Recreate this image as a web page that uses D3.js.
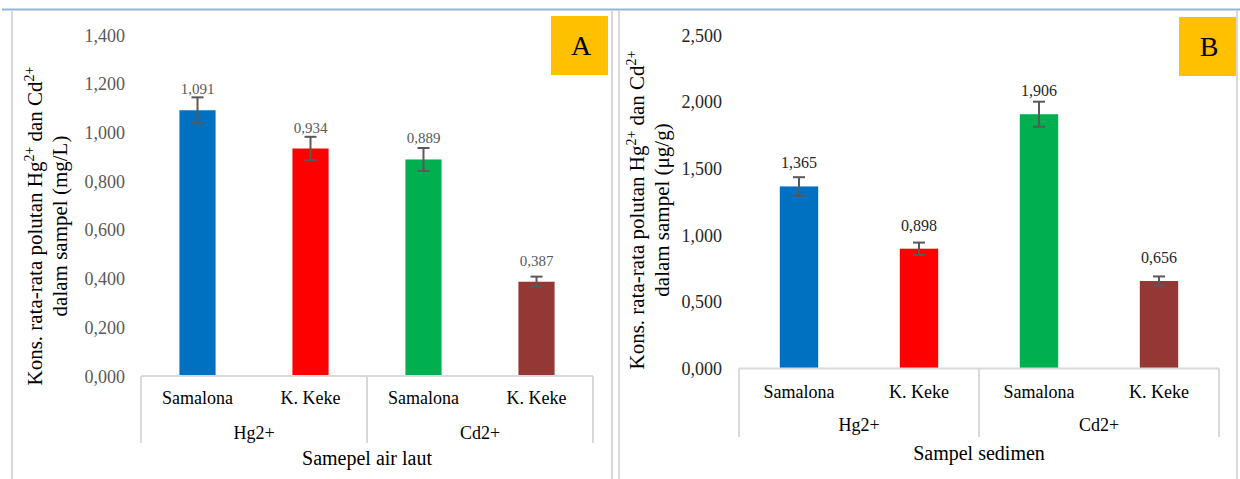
<!DOCTYPE html>
<html>
<head>
    <meta charset="utf-8">
    <title>Hg2+ dan Cd2+</title>
    <script src="https://d3js.org/d3.v7.min.js"></script>
    <style>
        body { margin: 0; background: #fff; }
        text { font-family: "Liberation Serif", "Times New Roman", serif; }
    </style>
</head>
<body>
    <script>
        // data
        var categories = ["Samalona", "K. Keke", "Samalona", "K. Keke"];
        var groups = ["Hg2+", "Cd2+"];
        var airValues = [1.091, 0.934, 0.889, 0.387];
        var airErrors = [0.053, 0.048, 0.047, 0.021];
        var sedValues = [1.365, 0.898, 1.906, 0.656];
        var sedErrors = [0.069, 0.046, 0.094, 0.034];
        var airTicks = [0, 0.2, 0.4, 0.6, 0.8, 1.0, 1.2, 1.4];
        var sedTicks = [0, 0.5, 1.0, 1.5, 2.0, 2.5];
        var barColors = ["#0070C0", "#FF0000", "#00B050", "#953735"];

        var loc = d3.formatLocale({decimal: ",", thousands: ".", grouping: [3], currency: ["", ""]});
        var fmt = loc.format(".3f");

        var svg = d3.select("body")
                    .append("svg")
                    .attr("width", 1240)
                    .attr("height", 479);

        // frame lines
        svg.append("line").attr("x1", 2).attr("x2", 1240).attr("y1", 9.5).attr("y2", 9.5)
           .attr("stroke", "#95B3DC").attr("stroke-width", 2);
        [12, 612, 619, 1237].forEach(function(x) {
            svg.append("line").attr("x1", x).attr("x2", x).attr("y1", 11).attr("y2", 479)
               .attr("stroke", "#D9D9D9").attr("stroke-width", 2);
        });

        function drawPanel(p) {
            var g = svg.append("g");

            var x = d3.scaleBand().domain(d3.range(categories.length))
                      .range([p.left, p.right]);
            var y = d3.scaleLinear().domain([0, p.max]).range([p.bottom, p.top]);
            var bw = x.bandwidth() * 0.32;

            // y axis
            var ax = g.append("g")
                      .attr("transform", "translate(" + p.tickX + ",0)")
                      .call(d3.axisLeft(y).tickValues(p.ticks).tickSize(0).tickPadding(0).tickFormat(fmt));
            ax.select(".domain").remove();
            ax.selectAll("text")
              .attr("font-family", "'Liberation Serif', 'Times New Roman', serif")
              .attr("font-size", 18)
              .attr("fill", p.tickColor)
              .attr("dy", "0.34em");

            // bars
            g.selectAll("rect.bar")
             .data(p.values)
             .join("rect")
             .attr("class", "bar")
             .attr("x", (d, i) => x(i) + x.bandwidth() / 2 - bw / 2)
             .attr("width", bw)
             .attr("y", d => y(d))
             .attr("height", d => y(0) - y(d))
             .attr("fill", (d, i) => barColors[i]);

            // error bars
            var eb = g.selectAll("g.err")
                      .data(p.values)
                      .join("g")
                      .attr("class", "err")
                      .attr("stroke", "#595959")
                      .attr("stroke-width", 2);
            eb.append("line")
              .attr("x1", (d, i) => x(i) + x.bandwidth() / 2)
              .attr("x2", (d, i) => x(i) + x.bandwidth() / 2)
              .attr("y1", (d, i) => y(d + p.errors[i]))
              .attr("y2", (d, i) => y(d - p.errors[i]));
            [1, -1].forEach(function(s) {
                eb.append("line")
                  .attr("x1", (d, i) => x(i) + x.bandwidth() / 2 - 6)
                  .attr("x2", (d, i) => x(i) + x.bandwidth() / 2 + 6)
                  .attr("y1", (d, i) => y(d + s * p.errors[i]))
                  .attr("y2", (d, i) => y(d + s * p.errors[i]));
            });

            // value labels
            g.selectAll("text.val")
             .data(p.values)
             .join("text")
             .attr("class", "val")
             .attr("x", (d, i) => x(i) + x.bandwidth() / 2)
             .attr("y", d => y(d) - p.labelGap)
             .attr("text-anchor", "middle")
             .attr("font-size", p.valSize)
             .attr("fill", p.valColor)
             .text(d => fmt(d));

            // category axis box
            var axisColor = "#D9D9D9";
            g.append("line").attr("x1", p.left).attr("x2", p.right)
             .attr("y1", y(0)).attr("y2", y(0))
             .attr("stroke", axisColor).attr("stroke-width", 2);
            [x(0), x(2), x(3) + x.bandwidth()].forEach(function(xx) {
                g.append("line").attr("x1", xx).attr("x2", xx)
                 .attr("y1", y(0)).attr("y2", p.boxBottom)
                 .attr("stroke", axisColor).attr("stroke-width", 2);
            });

            g.selectAll("text.cat")
             .data(categories)
             .join("text")
             .attr("class", "cat")
             .attr("x", (d, i) => x(i) + x.bandwidth() / 2)
             .attr("y", p.catY)
             .attr("text-anchor", "middle")
             .attr("font-size", 18)
             .attr("fill", "#000")
             .text(d => d);

            g.selectAll("text.grp")
             .data(groups)
             .join("text")
             .attr("class", "grp")
             .attr("x", (d, i) => x(i * 2) + x.bandwidth())
             .attr("y", p.grpY)
             .attr("text-anchor", "middle")
             .attr("font-size", 18)
             .attr("fill", "#000")
             .text(d => d);

            // x title
            g.append("text")
             .attr("x", (p.left + p.right) / 2)
             .attr("y", p.titleY)
             .attr("text-anchor", "middle")
             .attr("font-size", 20)
             .attr("fill", "#000")
             .text(p.xTitle);

            // y title (2 lines, superscripts)
            var yt = g.append("text")
                      .attr("transform", "translate(" + p.yTitleX + "," + p.yTitleY + ") rotate(-90)")
                      .attr("text-anchor", "middle")
                      .attr("font-size", 21)
                      .attr("fill", "#000");
            var l1 = yt.append("tspan").attr("x", 0).attr("y", 0);
            l1.append("tspan").text("Kons. rata-rata polutan Hg");
            l1.append("tspan").attr("dy", -8).attr("font-size", 14).text("2+");
            l1.append("tspan").attr("dy", 8).text(" dan Cd");
            l1.append("tspan").attr("dy", -8).attr("font-size", 14).text("2+");
            yt.append("tspan").attr("x", 0).attr("y", 25).text(p.yTitle2);

            // panel tag
            g.append("rect").attr("x", p.tagX).attr("y", p.tagY)
             .attr("width", 57).attr("height", 59).attr("fill", "#FFC000");
            g.append("text").attr("x", p.tagX + 30).attr("y", p.tagY + 39)
             .attr("text-anchor", "middle").attr("font-size", 28).attr("fill", "#000")
             .text(p.tag);
        }

        drawPanel({
            values: airValues, errors: airErrors, ticks: airTicks, max: 1.4,
            left: 141, right: 593, top: 35, bottom: 376, tickX: 125,
            tickColor: "#595959", valColor: "#595959", valSize: 15, labelGap: 16,
            boxBottom: 443, catY: 404, grpY: 439, titleY: 465,
            xTitle: "Samepel air laut", yTitle2: "dalam sampel (mg/L)",
            yTitleX: 42, yTitleY: 226, tag: "A", tagX: 551, tagY: 16
        });

        drawPanel({
            values: sedValues, errors: sedErrors, ticks: sedTicks, max: 2.5,
            left: 739, right: 1219, top: 35, bottom: 368.5, tickX: 722,
            tickColor: "#262626", valColor: "#262626", valSize: 16, labelGap: 18,
            boxBottom: 437, catY: 398, grpY: 431, titleY: 460,
            xTitle: "Sampel sedimen", yTitle2: "dalam sampel (μg/g)",
            yTitleX: 644, yTitleY: 210, tag: "B", tagX: 1179, tagY: 17
        });
    </script>
</body>
</html>
